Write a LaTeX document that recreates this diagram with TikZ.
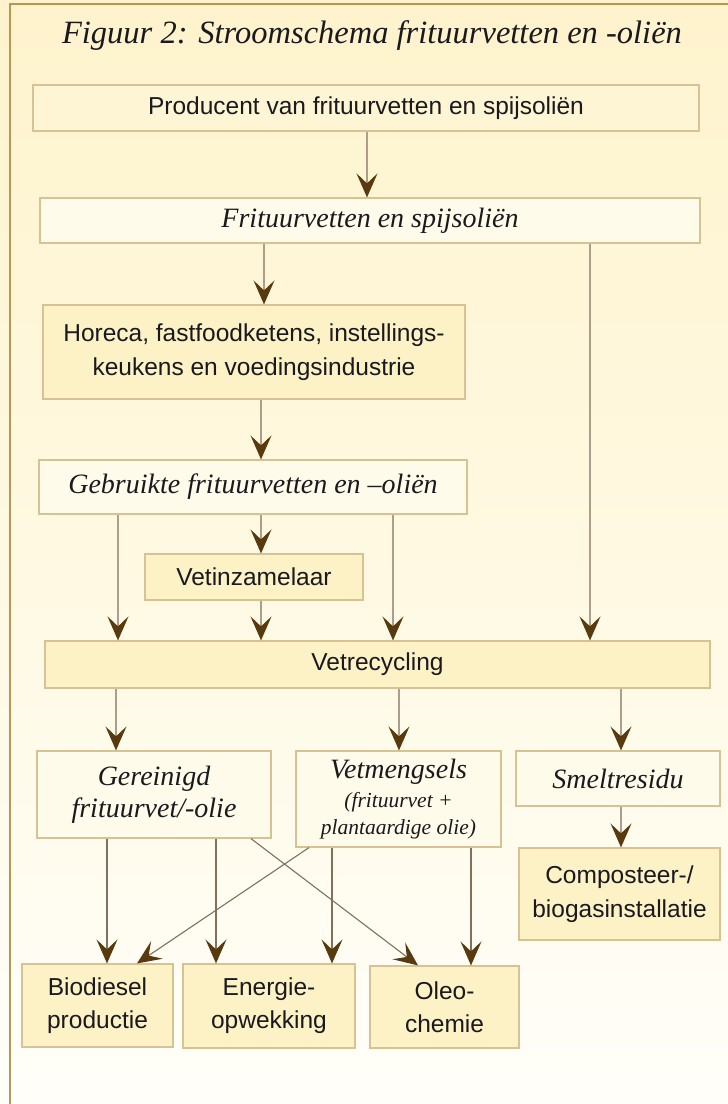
\documentclass[tikz,border=0pt]{standalone}
\usepackage{fontspec}
\setmainfont{Liberation Serif}
\setsansfont{Liberation Sans}
\usetikzlibrary{arrows.meta,shadows}

\definecolor{bgtop}{RGB}{254,243,204}
\definecolor{bgbot}{RGB}{255,254,249}
\definecolor{framecol}{RGB}{185,150,82}
\definecolor{boxline}{RGB}{214,194,146}
\definecolor{boxfill}{RGB}{253,241,198}
\definecolor{lightfill}{RGB}{255,251,234}
\definecolor{prodfill}{RGB}{254,245,212}
\definecolor{conn}{RGB}{172,158,138}
\definecolor{conndark}{RGB}{128,112,92}
\definecolor{tipcol}{RGB}{88,58,14}
\definecolor{shadowcol}{RGB}{222,208,170}
\definecolor{txt}{RGB}{25,25,30}

\newcommand\sanstxt{\fontsize{24.5}{34}\selectfont\sffamily}
\newcommand\ittxt{\fontsize{28}{32}\selectfont\itshape}
\newcommand\smallit{\fontsize{21.5}{26}\selectfont\itshape}

\begin{document}
\begin{tikzpicture}[x=1pt,y=-1pt,
  box/.style={draw=boxline, line width=1.2pt, fill=boxfill, inner sep=0pt,
    align=center, text=txt, font=\sanstxt,
    drop shadow={shadow xshift=1.3pt, shadow yshift=-1.3pt, fill=shadowcol, opacity=0.9}},
  lbox/.style={box, fill=lightfill, font=\ittxt},
  arr/.style={draw=conn, line width=1.1pt,
    -{Stealth[length=24pt, width=21pt, inset=10pt, color=tipcol, fill=tipcol]}},
  arrd/.style={arr, draw=conndark}
]
\useasboundingbox (0,0) rectangle (728,1104);
\begin{scope}[y=1pt]
  \shade[top color=bgtop, bottom color=bgbot, middle color={rgb,255:red,255;green,249;blue,226}] (0,-1104) rectangle (728,0);
\end{scope}
\draw[framecol, line width=2pt] (10,1104) -- (10,4) -- (728,4);

\node[anchor=base, text=txt, font=\fontsize{32.5}{38}\selectfont\itshape] (title) at (372,43) {Figuur 2: Stroomschema frituurvetten en -oliën};

\node[box, fill=prodfill, minimum width=666pt, minimum height=46pt] (prod) at (366,108) {Producent van frituurvetten en spijsoliën};
\node[lbox, minimum width=660pt, minimum height=45pt] (frit) at (370,220.5) {Frituurvetten en spijsoliën};
\node[box, minimum width=422pt, minimum height=94pt] (hor) at (254,352) {Horeca, fastfoodketens, instellings-\\keukens en voedingsindustrie};
\node[lbox, minimum width=428pt, minimum height=54pt] (gebr) at (253,487) {Gebruikte frituurvetten en –oliën};
\node[box, minimum width=218pt, minimum height=46pt] (vetz) at (254,577) {Vetinzamelaar};
\node[box, minimum width=665pt, minimum height=47pt] (vetr) at (377.5,664.5) {Vetrecycling};
\node[lbox, minimum width=234pt, minimum height=87pt] (ger) at (154,794.5) {Gereinigd\\frituurvet/-olie};
\node[lbox, minimum width=205pt, minimum height=96pt] (vetm) at (398.5,799) {Vetmengsels\\[-3pt]{\smallit (frituurvet +}\\[-5pt]{\smallit plantaardige olie)}};
\node[lbox, minimum width=204pt, minimum height=55pt] (smelt) at (618,778.5) {Smeltresidu};
\node[box, minimum width=201pt, minimum height=92pt] (comp) at (619.5,894) {Composteer-/\\biogasinstallatie};
\node[box, minimum width=151pt, minimum height=83pt, font=\fontsize{24.5}{33}\selectfont\sffamily] (bio) at (97.5,1005.5) {Biodiesel\\productie};
\node[box, minimum width=172pt, minimum height=84pt, font=\fontsize{24.5}{33}\selectfont\sffamily] (ener) at (269,1006) {Energie-\\opwekking};
\node[box, minimum width=149pt, minimum height=82pt, font=\fontsize{24.5}{33}\selectfont\sffamily] (oleo) at (444.5,1007) {Oleo-\\chemie};

% column coordinates
\coordinate (c367) at (367,0);
\coordinate (c264) at (264,0);
\coordinate (c590) at (590,0);
\coordinate (c261) at (261,0);
\coordinate (c118) at (118,0);
\coordinate (c393) at (393,0);
\coordinate (c116) at (116,0);
\coordinate (c399) at (399,0);
\coordinate (c621) at (621,0);
\coordinate (c107) at (107,0);
\coordinate (c216) at (216,0);
\coordinate (c251) at (251,0);
\coordinate (c418) at (418,0);
\coordinate (c309) at (309,0);
\coordinate (c137) at (137,0);
\coordinate (c332) at (332,0);
\coordinate (c471) at (471,0);

\draw[arr] (prod.south -| c367) -- (frit.north -| c367);
\draw[arr] (frit.south -| c264) -- (hor.north -| c264);
\draw[arr] (frit.south -| c590) -- (vetr.north -| c590);
\draw[arr] (hor.south -| c261) -- (gebr.north -| c261);
\draw[arr] (gebr.south -| c261) -- (vetz.north -| c261);
\draw[arr] (gebr.south -| c118) -- (vetr.north -| c118);
\draw[arr] (gebr.south -| c393) -- (vetr.north -| c393);
\draw[arr] (vetz.south -| c261) -- (vetr.north -| c261);
\draw[arr] (vetr.south -| c116) -- (ger.north -| c116);
\draw[arr] (vetr.south -| c399) -- (vetm.north -| c399);
\draw[arr] (vetr.south -| c621) -- (smelt.north -| c621);
\draw[arr] (smelt.south -| c621) -- (comp.north -| c621);

\draw[arrd] (ger.south -| c107) -- (bio.north -| c107);
\draw[arrd] (ger.south -| c216) -- (ener.north -| c216);
\draw[arrd] (ger.south -| c251) -- (oleo.north -| c418);
\draw[arrd] (vetm.south -| c309) -- (bio.north -| c137);
\draw[arrd] (vetm.south -| c332) -- (ener.north -| c332);
\draw[arrd] (vetm.south -| c471) -- (oleo.north -| c471);
\end{tikzpicture}
\end{document}
